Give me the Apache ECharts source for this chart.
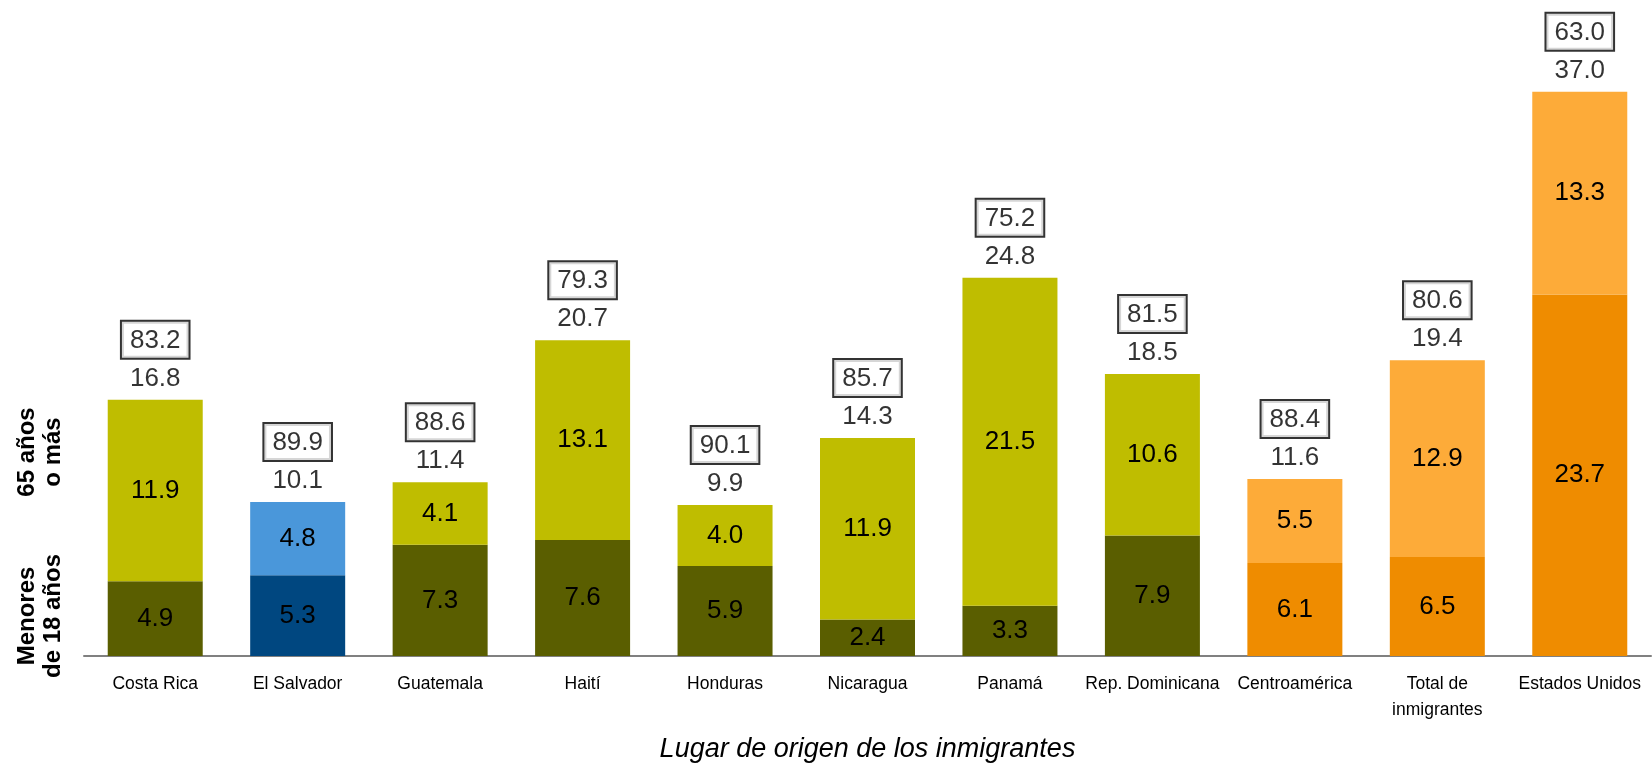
<!DOCTYPE html>
<html>
<head>
<meta charset="utf-8">
<script src="https://cdn.jsdelivr.net/npm/echarts@6/dist/echarts.min.js"></script>
<style>
html,body{margin:0;padding:0;background:#fff;}
#chart{width:1652px;height:767px;}
</style>
</head>
<body>
<div id="chart"></div>
<script>
const categories = ['Costa Rica','El Salvador','Guatemala','Haití','Honduras','Nicaragua','Panamá','Rep. Dominicana','Centroamérica','Total de\ninmigrantes','Estados Unidos'];
const menores18 = [4.9, 5.3, 7.3, 7.6, 5.9, 2.4, 3.3, 7.9, 6.1, 6.5, 23.7];
const mayores65 = [11.9, 4.8, 4.1, 13.1, 4.0, 11.9, 21.5, 10.6, 5.5, 12.9, 13.3];
const totalDependientes = [16.8, 10.1, 11.4, 20.7, 9.9, 14.3, 24.8, 18.5, 11.6, 19.4, 37.0];
const recuadro = [83.2, 89.9, 88.6, 79.3, 90.1, 85.7, 75.2, 81.5, 88.4, 80.6, 63.0];

const NUM_FONT = 'Liberation Sans, Arial, sans-serif';

function paletteFor(i){
  if (i === 1) return {dark:'#004780', light:'#4a97da'};
  if (i >= 8) return {dark:'#ef8c00', light:'#fdab39'};
  return {dark:'#5a5e00', light:'#bfbd00'};
}

const chart = echarts.init(document.getElementById('chart'), null, {renderer:'canvas'});
const option = {
  animation:false,
  backgroundColor:'#fff',
  grid:{left:84, right:1, top:46, bottom:111, containLabel:false, outerBoundsMode:'none'},
  xAxis:{
    type:'category',
    data:categories,
    axisLine:{lineStyle:{color:'#808080', width:2}},
    axisTick:{show:false},
    axisLabel:{color:'#000', fontFamily:NUM_FONT, fontSize:17.5, lineHeight:26, margin:15, interval:0},
    name:'Lugar de origen de los inmigrantes',
    nameLocation:'middle',
    nameGap:80,
    nameTextStyle:{color:'#000', fontFamily:NUM_FONT, fontSize:27, fontStyle:'italic'}
  },
  yAxis:{type:'value', min:0, max:40, show:false, splitLine:{show:false}},
  series:[
    {
      name:'Menores de 18 años', type:'bar', stack:'dep', barWidth:95,
      data:menores18,
      itemStyle:{color:p=>paletteFor(p.dataIndex).dark},
      label:{show:true, position:'inside', color:'#000', fontFamily:NUM_FONT, fontSize:26, formatter:p=>p.value.toFixed(1)}
    },
    {
      name:'65 años o más', type:'bar', stack:'dep', barWidth:95,
      data:mayores65,
      itemStyle:{color:p=>paletteFor(p.dataIndex).light},
      label:{show:true, position:'inside', color:'#000', fontFamily:NUM_FONT, fontSize:26, formatter:p=>p.value.toFixed(1)}
    },
    {
      name:'total', type:'scatter', symbolSize:0, silent:true,
      data:totalDependientes,
      label:{show:true, position:'top', distance:8, color:'#000', fontFamily:NUM_FONT, fontSize:26, formatter:p=>p.value.toFixed(1)}
    },
    {
      name:'recuadro', type:'scatter', symbolSize:0, silent:true,
      data:totalDependientes,
      label:{show:true, position:'top', distance:42, color:'#000', fontFamily:NUM_FONT, fontSize:26,
        borderColor:'#000', borderWidth:2, padding:[6,8,4,8], backgroundColor:'#fff',
        formatter:p=>recuadro[p.dataIndex].toFixed(1)}
    }
  ],
  graphic:[
    {type:'text', x:40, y:452, rotation:Math.PI/2,
      style:{text:'65 años\no más', textAlign:'center', textVerticalAlign:'middle', font:'bold 24px Liberation Sans', lineHeight:26, fill:'#000'}},
    {type:'text', x:40, y:616, rotation:Math.PI/2,
      style:{text:'Menores\nde 18 años', textAlign:'center', textVerticalAlign:'middle', font:'bold 24px Liberation Sans', lineHeight:26, fill:'#000'}}
  ]
};
chart.setOption(option);
</script>
</body>
</html>
